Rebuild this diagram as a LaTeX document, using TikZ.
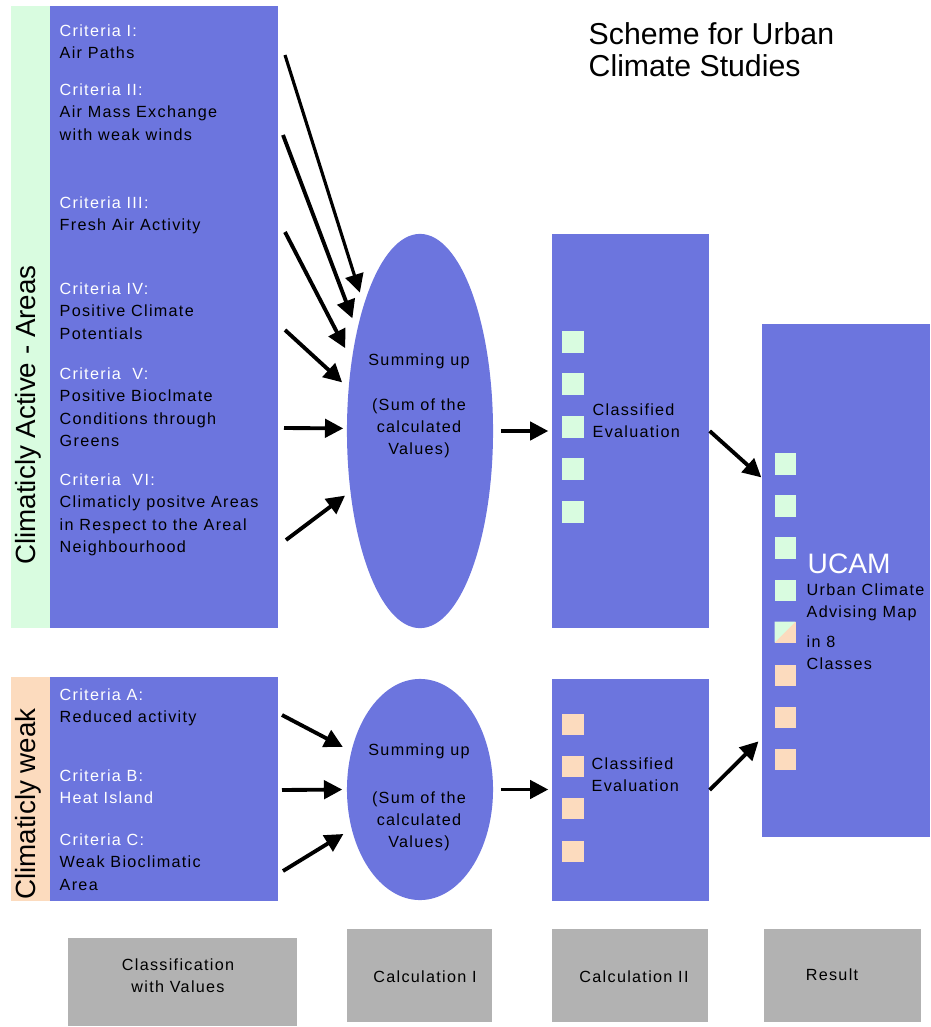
\documentclass[tikz,border=0pt]{standalone}
\usepackage{fontspec}
\setmainfont{Liberation Sans}
\newfontfamily\smallfont[LetterSpace=8]{Liberation Sans}
\usepackage{tikz}
\usetikzlibrary{shapes.geometric, arrows.meta, fit}
\definecolor{areablue}{RGB}{108,117,222}
\definecolor{activegreen}{RGB}{217,252,224}
\definecolor{weakpeach}{RGB}{252,219,190}
\definecolor{panelgray}{RGB}{178,178,178}

\begin{document}
\begin{tikzpicture}[x=0.01cm, y=-0.01cm,
    box/.style={fill=areablue, inner sep=0},
    strip/.style={inner sep=0},
    panel/.style={fill=panelgray, inner sep=0},
    sum/.style={ellipse, fill=areablue, inner sep=0, minimum width=1.46cm},
    cellG/.style={fill=activegreen, inner sep=0, minimum size=0.21cm},
    cellP/.style={fill=weakpeach, inner sep=0, minimum size=0.21cm},
    crit/.style={anchor=north west, align=left, inner sep=0, font=\fontsize{4.6}{6.35}\smallfont},
    mid/.style={anchor=north, align=center, inner sep=0, font=\fontsize{4.6}{6.35}\smallfont},
    side/.style={rotate=90, anchor=base, inner sep=0, font=\fontsize{7.9}{9}\selectfont},
    arr/.style={-{Triangle[length=5.2pt, width=5.2pt]}, line width=1.1pt}]
      \useasboundingbox (0,0) rectangle (930,1027);
      \node[crit, font=\fontsize{8.6}{9.1}\selectfont] (title) at (588,22) {Scheme for Urban\\Climate Studies};
      \node[strip, fill=activegreen, fit={(11,6) (50,628)}] (activeStrip) {};
      \node[box, fit={(50,6) (278,628)}] (critBox) {};
      \node[strip, fill=weakpeach, fit={(11,677) (50,901)}] (weakStrip) {};
      \node[box, fit={(50,677) (278,901)}] (weakBox) {};
      \node[side] (activeLbl) at (35,415) {Climaticly Active - Areas};
      \node[side] (weakLbl) at (35,804) {Climaticly weak};
      \node[crit] (crit1) at (59,24) {\textcolor{white}{Criteria I:}\\Air Paths};
      \node[crit] (crit2) at (59,83) {\textcolor{white}{Criteria II:}\\Air Mass Exchange\\with weak winds};
      \node[crit] (crit3) at (59,196) {\textcolor{white}{Criteria III:}\\Fresh Air Activity};
      \node[crit] (crit4) at (59,282) {\textcolor{white}{Criteria IV:}\\Positive Climate\\Potentials};
      \node[crit] (crit5) at (59,367) {\textcolor{white}{Criteria\ \ V:}\\Positive Bioclmate\\Conditions through\\Greens};
      \node[crit] (crit6) at (59,473) {\textcolor{white}{Criteria\ \ VI:}\\Climaticly positve Areas\\in Respect to the Areal\\Neighbourhood};
      \node[crit] (critA) at (59,688) {\textcolor{white}{Criteria A:}\\Reduced activity};
      \node[crit, text=white] (critB) at (59,769) {Criteria B:\\Heat Island};
      \node[crit] (critC) at (59,833) {\textcolor{white}{Criteria C:}\\Weak Bioclimatic\\Area};
      \node[sum, minimum height=3.94cm] (sumA) at (420,431) {};
      \node[sum, minimum height=2.21cm] (sumB) at (420,789.5) {};
      \node[mid] (sumAtxt) at (419,353) {Summing up\\[6.35pt](Sum of the\\calculated\\Values)};
      \node[mid] (sumBtxt) at (419,743) {Summing up\\[7.2pt](Sum of the\\calculated\\Values)};
      \node[box, fit={(552,234) (709,628)}] (evalA) {};
      \node[box, fit={(552,679) (709,901)}] (evalB) {};
      \node[box, fit={(762,324) (930,837)}] (result) {};
      \node[cellG] (a1) at (573,342) {};
      \node[cellG] (a2) at (573,384) {};
      \node[cellG] (a3) at (573,427) {};
      \node[cellG] (a4) at (573,469) {};
      \node[cellG] (a5) at (573,512) {};
      \node[cellP] (b1) at (573,724) {};
      \node[cellP] (b2) at (573,766) {};
      \node[cellP] (b3) at (573,808) {};
      \node[cellP] (b4) at (573,851) {};
      \node[cellG] (r1) at (785,464) {};
      \node[cellG] (r2) at (785,506) {};
      \node[cellG] (r3) at (785,548) {};
      \node[cellG] (r4) at (785,590) {};
      \node[cellP, path picture={\fill[activegreen] (path picture bounding box.north west) -- (path picture bounding box.north east) -- (path picture bounding box.south west) -- cycle;}] (r5) at (785,632) {};
      \node[cellP] (r6) at (785,675) {};
      \node[cellP] (r7) at (785,717) {};
      \node[cellP] (r8) at (785,759) {};
      \node[crit] (evalAtxt) at (592,403) {Classified\\Evaluation};
      \node[crit] (evalBtxt) at (591,757) {Classified\\Evaluation};
      \node[crit, font=\fontsize{8}{9}\selectfont, text=white] (ucam) at (807,553) {UCAM};
      \node[crit] (ucamtxt) at (806,583) {Urban Climate\\Advising Map\\[2pt]in 8\\Classes};
      \node[panel, fit={(68,938) (297,1026)}] (col1) {};
      \node[panel, fit={(347,929) (492,1022)}] (col2) {};
      \node[panel, fit={(552,929) (708,1022)}] (col3) {};
      \node[panel, fit={(764,929) (921,1022)}] (col4) {};
      \node[mid] (col1txt) at (178,958) {Classification\\with Values};
      \node[mid] (col2txt) at (425,970) {Calculation I};
      \node[mid] (col3txt) at (634,970) {Calculation II};
      \node[mid] (col4txt) at (832,968) {Result};
      \coordinate (s1) at (285,55);
      \coordinate (s2) at (283,135);
      \coordinate (s3) at (285,232);
      \coordinate (s4) at (285,330);
      \coordinate (s5) at (284,428);
      \coordinate (s6) at (286,540);
      \coordinate (s7) at (282,715);
      \coordinate (s8) at (282,790);
      \coordinate (s9) at (283,871);
      \draw (s1) edge[arr, line width=0.9pt, shorten >=0.12cm] (sumA.114);
      \draw (s2) edge[arr, shorten >=0.12cm] (sumA.122);
      \draw (s3) edge[arr, shorten >=0.13cm] (sumA.134);
      \draw (s4) edge[arr, shorten >=0.08cm] (sumA.149);
      \draw (s5) edge[arr, shorten >=0.03cm] (sumA.178);
      \draw (s6) edge[arr, shorten >=0.06cm] (sumA.221);
      \draw (sumA.east) edge[arr, shorten <=0.07cm, shorten >=0.03cm] (sumA.east -| evalA.west);
      \draw (evalA.east) edge[arr] ([yshift=-1.54cm]result.north west);
      \draw (s7) edge[arr, shorten >=0.09cm] (sumB.151);
      \draw (s8) edge[arr, shorten >=0.04cm] (sumB.west);
      \draw (s9) edge[arr, shorten >=0.09cm] (sumB.210);
      \draw (sumB.east) edge[arr, shorten <=0.07cm, shorten >=0.03cm] (sumB.east -| evalB.west);
      \draw (evalB.east) edge[arr, shorten >=0.04cm] ([yshift=-4.15cm]result.north west);
    \end{tikzpicture}
\end{document}
